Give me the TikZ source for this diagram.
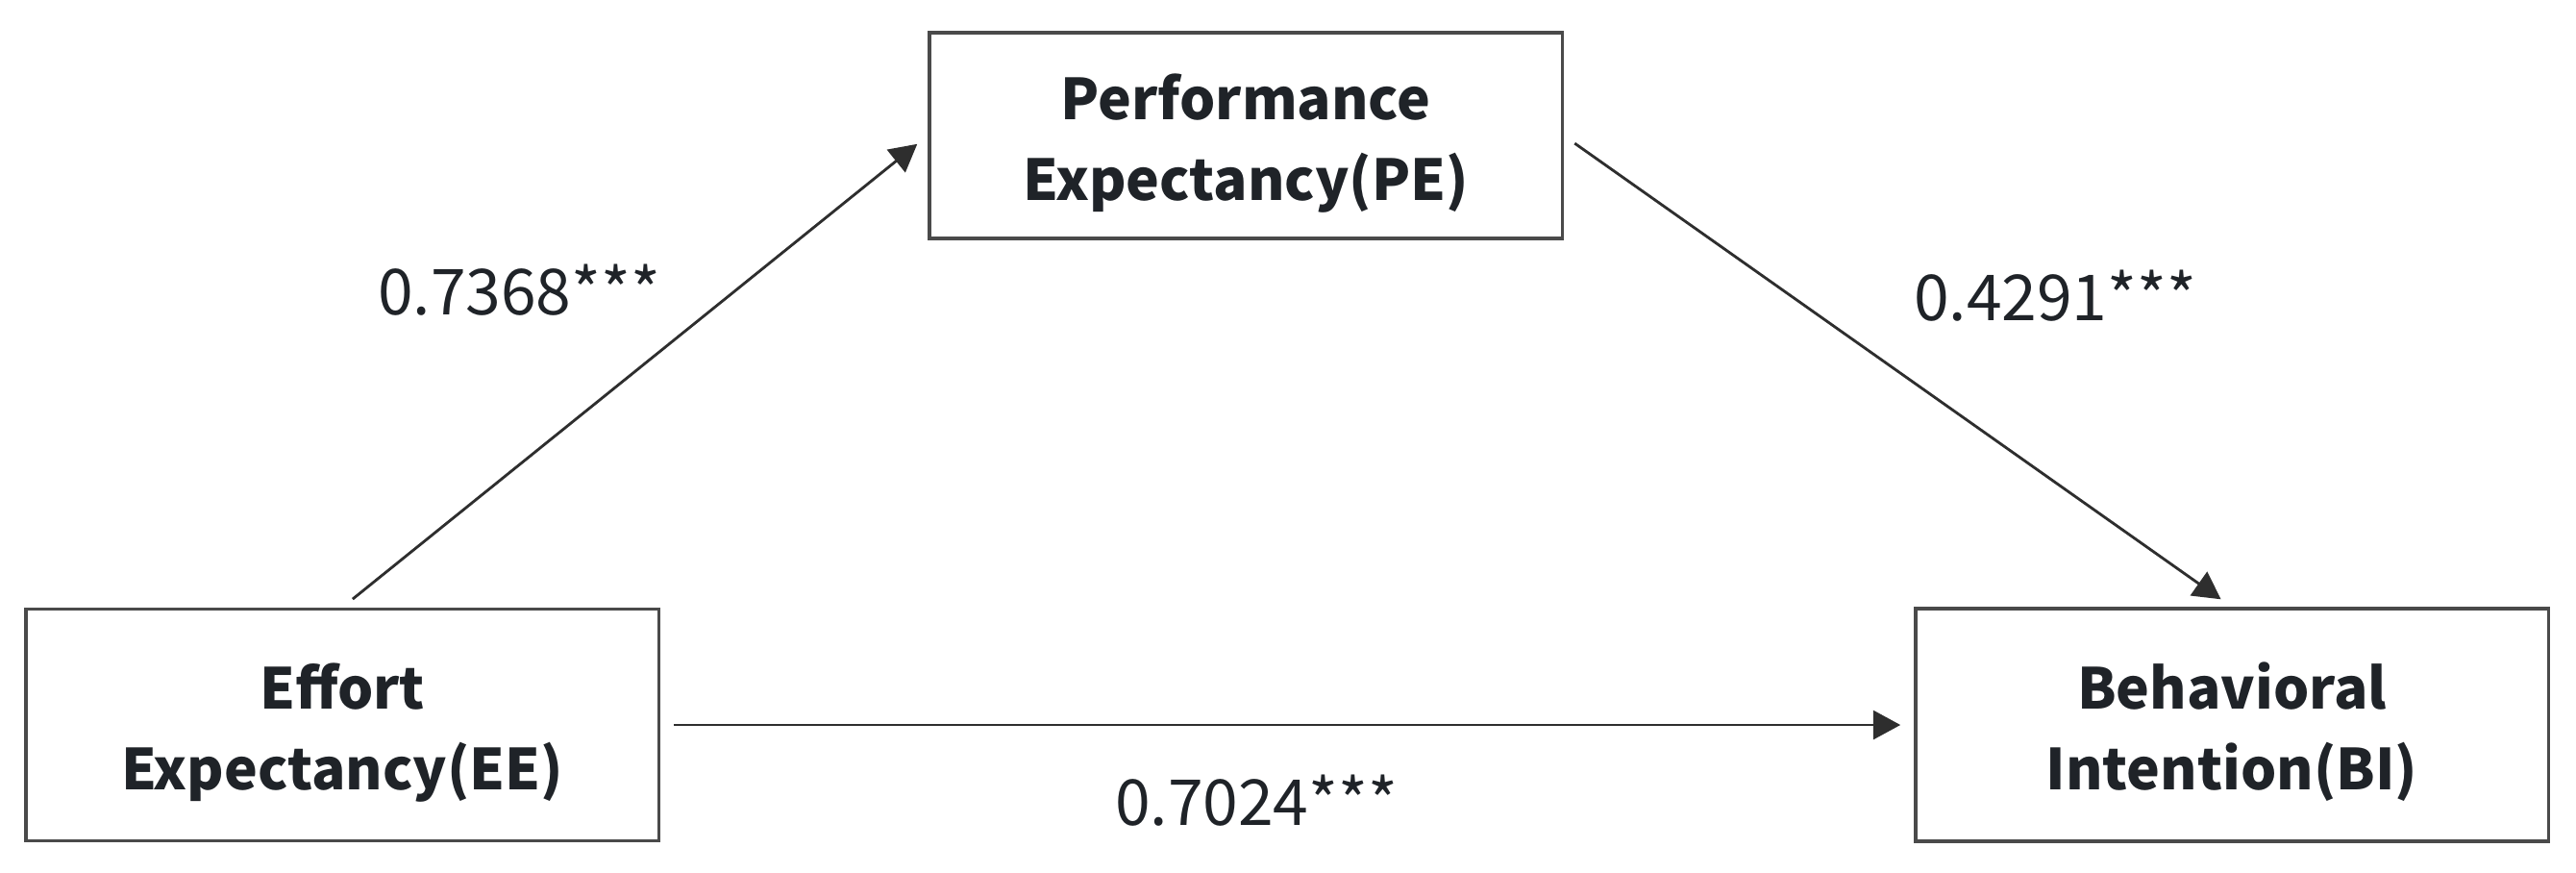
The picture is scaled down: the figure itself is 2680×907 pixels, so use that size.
\documentclass[tikz,border=0pt]{standalone}
\usepackage{fontspec}
\setmainfont{Noto Sans CJK SC}
\usetikzlibrary{arrows.meta}
\definecolor{txt}{HTML}{1F2328}
\definecolor{boxline}{HTML}{4A4A4A}
\definecolor{arrline}{HTML}{2E2E2E}
\newcommand{\vartext}[2]{\raisebox{-7pt}[0pt][0pt]{\begin{tabular}{@{}c@{}}#1\\#2\end{tabular}}}
\tikzset{
  varbox/.style={draw=boxline, line width=1pt, minimum width=197.5pt, minimum height=70pt,
    text=txt, font=\fontsize{17.6}{25.2}\selectfont\bfseries, inner sep=0pt},
  conn/.style={draw=arrline, line width=0.85pt, -{Triangle[length=8.5pt,width=9pt]},
    shorten <=4.2pt, shorten >=4.2pt},
  coef/.style={text=txt, font=\fontsize{19.8}{22}\selectfont, inner sep=0pt}
}
\begin{document}
\begin{tikzpicture}[x=0.3pt,y=-0.3pt]
\useasboundingbox (0,0) rectangle (2680,907);
\node[varbox, minimum height=64.2pt] (PE) at (1296,141) {\vartext{Performance}{Expectancy(PE)}};
\node[varbox, minimum height=72.3pt] (EE) at (356,754) {\vartext{Effort}{Expectancy(EE)}};
\node[varbox, minimum height=72.6pt] (BI) at (2322,754) {\vartext{Behavioral}{Intention(BI)}};
\path[conn] (EE.north) -- (PE.west);
\path[conn] (PE.east) -- (BI.north);
\path[conn] (EE.east) -- (BI.west);
\node[coef] (c1) at (540,302) {0.7368***};
\node[coef] (c2) at (2138,308) {0.4291***};
\node[coef] (c3) at (1307,833) {0.7024***};
\end{tikzpicture}
\end{document}
